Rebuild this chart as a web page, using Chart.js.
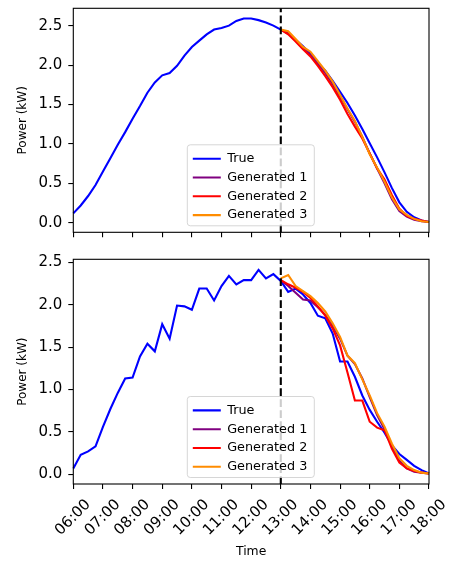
<!DOCTYPE html>
<html>
<head>
<meta charset="utf-8">
<script src="https://cdn.jsdelivr.net/npm/chart.js@4.4.0/dist/chart.umd.min.js"></script>
<style>
    html, body { margin: 0; padding: 0; background: #fff; }
    #wrap { position: relative; width: 450px; height: 562px; }
    #topChart { position: absolute; left: 0; top: 0; }
    #bottomChart { position: absolute; left: 0; top: 245px; }
</style>
</head>
<body>
<div id="wrap">
    <canvas id="topChart" width="450" height="245"></canvas>
    <canvas id="bottomChart" width="450" height="317"></canvas>
</div>
<script>
const timeLabels = [
    '06:00', '06:15', '06:30', '06:45', '07:00', '07:15', '07:30', '07:45',
    '08:00', '08:15', '08:30', '08:45', '09:00', '09:15', '09:30', '09:45',
    '10:00', '10:15', '10:30', '10:45', '11:00', '11:15', '11:30', '11:45',
    '12:00', '12:15', '12:30', '12:45', '13:00', '13:15', '13:30', '13:45',
    '14:00', '14:15', '14:30', '14:45', '15:00', '15:15', '15:30', '15:45',
    '16:00', '16:15', '16:30', '16:45', '17:00', '17:15', '17:30', '17:45',
    '18:00'
];
const splitTime = '13:00';
const yTicks = [0, 0.5, 1, 1.5, 2, 2.5];

// upper panel
const topTrue = [
    0.12, 0.22, 0.34, 0.48, 0.65, 0.82, 0.99, 1.15, 1.32, 1.48, 1.65, 1.78,
    1.87, 1.90, 1.99, 2.12, 2.23, 2.31, 2.39, 2.45, 2.47, 2.50, 2.56, 2.59,
    2.59, 2.57, 2.54, 2.50, 2.45, 2.40, 2.32, 2.24, 2.14, 2.03, 1.93, 1.80,
    1.66, 1.52, 1.36, 1.19, 1.01, 0.83, 0.64, 0.44, 0.26, 0.14, 0.07, 0.03,
    0.01
];
const topGen1 = [2.45, 2.41, 2.31, 2.21, 2.13, 2.02, 1.90, 1.76, 1.60, 1.44, 1.28,
    1.09, 0.88, 0.69, 0.50, 0.30, 0.15, 0.08, 0.04, 0.02, 0.01];
const topGen2 = [2.45, 2.39, 2.30, 2.20, 2.11, 1.99, 1.86, 1.72, 1.56, 1.38, 1.22,
    1.07, 0.88, 0.69, 0.55, 0.35, 0.18, 0.09, 0.05, 0.03, 0.01];
const topGen3 = [2.45, 2.43, 2.33, 2.23, 2.17, 2.05, 1.93, 1.79, 1.62, 1.45, 1.29,
    1.09, 0.87, 0.70, 0.52, 0.32, 0.17, 0.10, 0.05, 0.02, 0.01];

// lower panel
const bottomTrue = [
    0.07, 0.23, 0.27, 0.33, 0.56, 0.77, 0.96, 1.13, 1.14, 1.39, 1.54, 1.45,
    1.77, 1.60, 1.99, 1.98, 1.94, 2.19, 2.19, 2.05, 2.22, 2.34, 2.24, 2.29,
    2.29, 2.41, 2.31, 2.36, 2.28, 2.15, 2.19, 2.12, 2.02, 1.87, 1.84, 1.66,
    1.33, 1.33, 1.15, 0.93, 0.76, 0.62, 0.49, 0.34, 0.24, 0.17, 0.10, 0.05,
    0.01
];
const bottomGen1 = [2.29, 2.22, 2.14, 2.06, 2.05, 1.97, 1.88, 1.75, 1.60, 1.40, 1.30,
    1.13, 0.91, 0.70, 0.53, 0.33, 0.16, 0.07, 0.03, 0.02, 0.01];
const bottomGen2 = [2.29, 2.24, 2.20, 2.15, 2.08, 1.98, 1.87, 1.72, 1.52, 1.20, 0.87,
    0.87, 0.62, 0.55, 0.52, 0.30, 0.14, 0.07, 0.04, 0.02, 0.01];
const bottomGen3 = [2.31, 2.35, 2.22, 2.16, 2.10, 2.02, 1.92, 1.78, 1.62, 1.40, 1.31,
    1.12, 0.93, 0.72, 0.56, 0.36, 0.19, 0.10, 0.05, 0.02, 0.01];

const FONT = 'DejaVu Sans';
const splitIndex = timeLabels.indexOf(splitTime);

// generated runs start at the split point
function fromSplit(values) {
    return new Array(splitIndex).fill(null).concat(values);
}

function datasets(trueVals, g1, g2, g3) {
    return [
        { label: 'True', data: trueVals, borderColor: 'blue', order: 4 },
        { label: 'Generated 1', data: fromSplit(g1), borderColor: 'purple', order: 3 },
        { label: 'Generated 2', data: fromSplit(g2), borderColor: 'red', order: 2 },
        { label: 'Generated 3', data: fromSplit(g3), borderColor: 'darkorange', order: 1 }
    ];
}

function isHour(i) {
    return timeLabels[i].endsWith(':00');
}

// dashed split line, axes frame, legend placed inside the plot like matplotlib
const panelExtras = {
    id: 'panelExtras',
    beforeLayout(chart) {
        const lg = chart.legend;
        if (lg && !lg._moved) {
            lg._moved = true;
            lg._layers = () => [{
                z: 1,
                draw(area) {
                    const ctx = chart.ctx;
                    ctx.save();
                    ctx.beginPath();
                    ctx.roundRect(lg._frameX, lg._frameY, 127, 81, 3);
                    ctx.fillStyle = 'rgba(255,255,255,0.8)';
                    ctx.fill();
                    ctx.lineWidth = 1;
                    ctx.strokeStyle = 'rgba(204,204,204,0.8)';
                    ctx.stroke();
                    ctx.restore();
                    lg.draw(area);
                }
            }];
        }
    },
    afterLayout(chart) {
        const lg = chart.legend;
        const a = chart.chartArea;
        lg._frameX = a.left + 114;
        lg._frameY = a.bottom - 6.5 - 81;
        lg.left = lg._frameX - 0.5;
        lg.top = lg._frameY + 1.5;
        lg.right = lg.left + 140;
        lg.bottom = lg.top + 100;
        lg.width = 140;
        lg.height = 100;
    },
    afterDatasetsDraw(chart) {
        const { ctx, chartArea: a, scales: { x } } = chart;
        const px = x.getPixelForValue(splitIndex);
        ctx.save();
        ctx.beginPath();
        ctx.setLineDash([7.7, 3.3]);
        ctx.lineWidth = 2.1;
        ctx.strokeStyle = '#000';
        ctx.moveTo(px, a.bottom);
        ctx.lineTo(px, a.top);
        ctx.stroke();
        ctx.restore();
    },
    afterDraw(chart) {
        const { ctx, chartArea: a } = chart;
        ctx.save();
        ctx.lineWidth = 1.1;
        ctx.strokeStyle = '#000';
        ctx.strokeRect(a.left, a.top, a.right - a.left, a.bottom - a.top);
        ctx.restore();
    }
};

function noScalePadding(s) {
    s.paddingTop = 0;
    s.paddingBottom = 0;
    s.paddingLeft = 0;
    s.paddingRight = 0;
}

function chartOptions(yMin, yMax, padTop, xHeight, showLabels) {
    return {
        responsive: false,
        animation: false,
        layout: { padding: { top: padTop, right: 21, bottom: 0, left: 0 } },
        elements: {
            point: { radius: 0, borderWidth: 2.1 },
            line: { tension: 0, borderWidth: 2.1, fill: false }
        },
        plugins: {
            legend: {
                position: 'chartArea',
                align: 'start',
                labels: {
                    font: { family: FONT, size: 12.8 },
                    color: '#000',
                    usePointStyle: true,
                    pointStyle: 'line',
                    pointStyleWidth: 28,
                    padding: 6,
                    sort: (a, b) => a.datasetIndex - b.datasetIndex
                }
            },
            tooltip: { enabled: false }
        },
        scales: {
            x: {
                type: 'category',
                border: { display: false },
                grid: {
                    drawOnChartArea: false,
                    tickLength: 5,
                    lineWidth: 1.1,
                    color: ctx => isHour(ctx.index) ? '#000' : 'rgba(0,0,0,0)'
                },
                ticks: {
                    autoSkip: false,
                    minRotation: showLabels ? 45 : 0,
                    maxRotation: showLabels ? 45 : 0,
                    labelOffset: showLabels ? 15 : 0,
                    padding: 7,
                    color: '#000',
                    font: { family: FONT, size: 15 },
                    callback: (v, i) => (showLabels && isHour(i)) ? timeLabels[i] : ''
                },
                title: {
                    display: showLabels,
                    text: 'Time',
                    color: '#000',
                    font: { family: FONT, size: 12.4 },
                    padding: { top: 0, bottom: 3 }
                },
                afterFit: s => { s.height = xHeight; noScalePadding(s); }
            },
            y: {
                min: yMin,
                max: yMax,
                border: { display: false },
                grid: { drawOnChartArea: false, tickLength: 5, lineWidth: 1.1, color: '#000' },
                ticks: {
                    padding: 6,
                    color: '#000',
                    font: { family: FONT, size: 15 },
                    callback: v => v.toFixed(1)
                },
                afterBuildTicks: s => { s.ticks = yTicks.map(v => ({ value: v })); },
                title: {
                    display: true,
                    text: 'Power (kW)',
                    color: '#000',
                    font: { family: FONT, size: 12 },
                    padding: { top: 15.3, bottom: 0 }
                },
                afterFit: s => { s.width = 73.3; noScalePadding(s); }
            }
        }
    };
}

new Chart(document.getElementById('topChart'), {
    type: 'line',
    data: { labels: timeLabels, datasets: datasets(topTrue, topGen1, topGen2, topGen3) },
    options: chartOptions(-0.12, 2.72, 8.3, 12.7, false),
    plugins: [panelExtras]
});

new Chart(document.getElementById('bottomChart'), {
    type: 'line',
    data: { labels: timeLabels, datasets: datasets(bottomTrue, bottomGen1, bottomGen2, bottomGen3) },
    options: chartOptions(-0.114, 2.535, 14.3, 78, true),
    plugins: [panelExtras]
});
</script>
</body>
</html>
